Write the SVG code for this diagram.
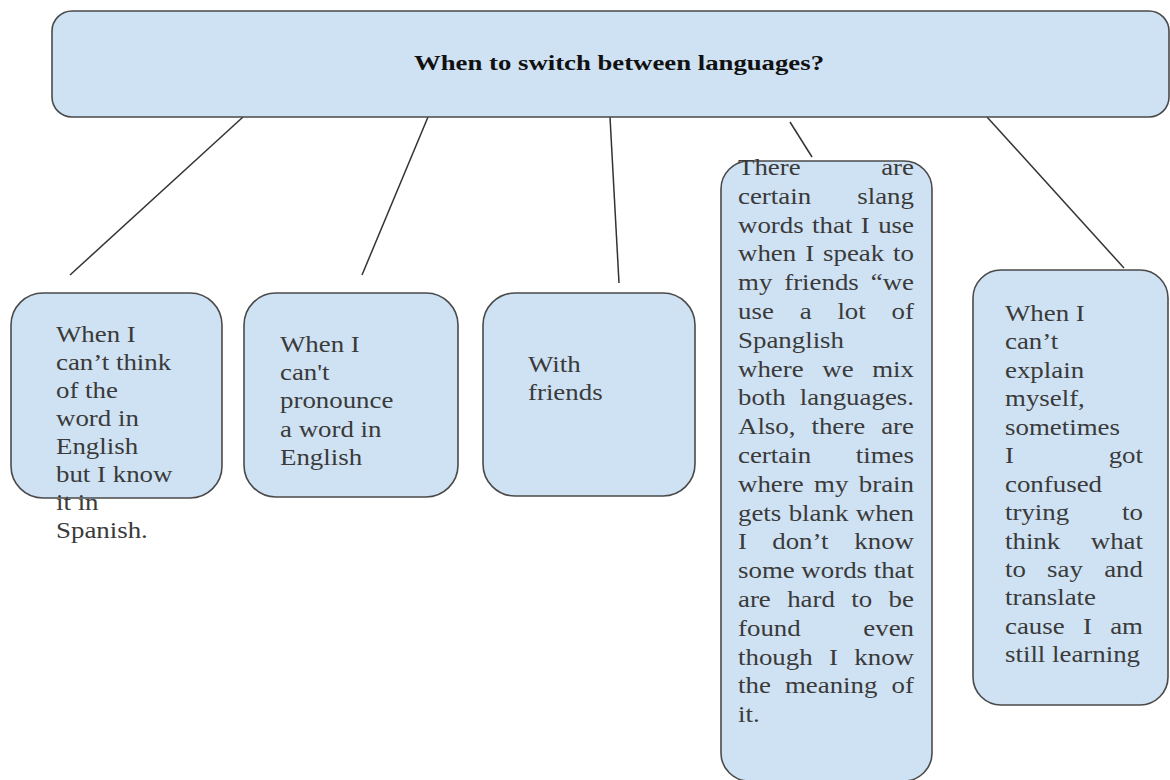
<svg xmlns="http://www.w3.org/2000/svg" width="1170" height="780" viewBox="0 0 1170 780">
<style>
.box{fill:#cfe2f3;stroke:#4a4a4a;stroke-width:1.6}
.t{font-family:"Liberation Serif","Times New Roman",serif;font-size:24px;fill:#3a3a3a}
.e{text-anchor:end}
.title{font-family:"Liberation Serif","Times New Roman",serif;font-size:20px;font-weight:bold;fill:#111;text-anchor:middle}
.conn line{stroke:#333;stroke-width:1.5}
</style>
<rect width="1170" height="780" fill="#fff"/>
<g id="connectors" class="conn">
<line x1="243" y1="117" x2="70" y2="275"/>
<line x1="428" y1="117" x2="362" y2="275"/>
<line x1="610" y1="117" x2="619" y2="283"/>
<line x1="790" y1="122" x2="812" y2="157"/>
<line x1="987" y1="117" x2="1124" y2="268"/>
</g>
<g id="root">
<rect class="box" x="52" y="11" width="1117" height="106" rx="20"/>
<text class="title" x="619" y="70" textLength="410" lengthAdjust="spacingAndGlyphs">When to switch between languages?</text>
</g>
<g id="node1">
<rect class="box" x="11" y="293" width="211" height="205" rx="32"/>
<g class="t" transform="translate(56,0) scale(1.12,1)">
<text x="0" y="342">When I</text>
<text x="0" y="370">can’t think</text>
<text x="0" y="398">of the</text>
<text x="0" y="426">word in</text>
<text x="0" y="454">English</text>
<text x="0" y="482">but I know</text>
<text x="0" y="510">it in</text>
<text x="0" y="538">Spanish.</text>
</g>
</g>
<g id="node2">
<rect class="box" x="244" y="293" width="214" height="204" rx="32"/>
<g class="t" transform="translate(280,0) scale(1.12,1)">
<text x="0" y="352">When I</text>
<text x="0" y="380">can't</text>
<text x="0" y="408">pronounce</text>
<text x="0" y="437">a word in</text>
<text x="0" y="465">English</text>
</g>
</g>
<g id="node3">
<rect class="box" x="483" y="293" width="212" height="203" rx="32"/>
<g class="t" transform="translate(528,0) scale(1.12,1)">
<text x="0" y="372">With</text>
<text x="0" y="400">friends</text>
</g>
</g>
<g id="node4">
<rect class="box" x="721" y="161" width="211" height="620" rx="28"/>
<g class="t" transform="translate(738,0) scale(1.12,1)">
<text x="0" y="175">There</text><text class="e" x="157.14" y="175">are</text>
<text x="0" y="203.8">certain</text><text class="e" x="157.14" y="203.8">slang</text>
<text x="0" y="232.6">words</text><text x="66.15" y="232.6">that</text><text x="109.64" y="232.6">I</text><text class="e" x="157.14" y="232.6">use</text>
<text x="0" y="261.4">when</text><text x="59.95" y="261.4">I</text><text x="75.9" y="261.4">speak</text><text class="e" x="157.14" y="261.4">to</text>
<text x="0" y="290.2">my</text><text x="41.26" y="290.2">friends</text><text class="e" x="157.14" y="290.2">“we</text>
<text x="0" y="319">use</text><text x="55.05" y="319">a</text><text x="88.76" y="319">lot</text><text class="e" x="157.14" y="319">of</text>
<text x="0" y="347.8">Spanglish</text>
<text x="0" y="376.6">where</text><text x="75.23" y="376.6">we</text><text class="e" x="157.14" y="376.6">mix</text>
<text x="0" y="405.4">both</text><text class="e" x="157.14" y="405.4">languages.</text>
<text x="0" y="434.2">Also,</text><text x="65.6" y="434.2">there</text><text class="e" x="157.14" y="434.2">are</text>
<text x="0" y="463">certain</text><text class="e" x="157.14" y="463">times</text>
<text x="0" y="491.8">where</text><text x="67.89" y="491.8">my</text><text class="e" x="157.14" y="491.8">brain</text>
<text x="0" y="520.6">gets</text><text x="45.24" y="520.6">blank</text><text class="e" x="157.14" y="520.6">when</text>
<text x="0" y="549.4">I</text><text x="30.57" y="549.4">don’t</text><text class="e" x="157.14" y="549.4">know</text>
<text x="0" y="578.2">some</text><text x="56.57" y="578.2">words</text><text class="e" x="157.14" y="578.2">that</text>
<text x="0" y="607">are</text><text x="43.92" y="607">hard</text><text x="101.19" y="607">to</text><text class="e" x="157.14" y="607">be</text>
<text x="0" y="635.8">found</text><text class="e" x="157.14" y="635.8">even</text>
<text x="0" y="664.6">though</text><text x="81.24" y="664.6">I</text><text class="e" x="157.14" y="664.6">know</text>
<text x="0" y="693.4">the</text><text x="41.91" y="693.4">meaning</text><text class="e" x="157.14" y="693.4">of</text>
<text x="0" y="722.2">it.</text>
</g>
</g>
<g id="node5">
<rect class="box" x="973" y="270" width="195" height="435" rx="28"/>
<g class="t" transform="translate(1005,0) scale(1.12,1)">
<text x="0" y="321">When I</text>
<text x="0" y="349.45">can’t</text>
<text x="0" y="377.9">explain</text>
<text x="0" y="406.35">myself,</text>
<text x="0" y="434.8">sometimes</text>
<text x="0" y="463.25">I</text><text class="e" x="123.2" y="463.25">got</text>
<text x="0" y="491.7">confused</text>
<text x="0" y="520.15">trying</text><text class="e" x="123.2" y="520.15">to</text>
<text x="0" y="548.6">think</text><text class="e" x="123.2" y="548.6">what</text>
<text x="0" y="577.05">to</text><text x="37.61" y="577.05">say</text><text class="e" x="123.2" y="577.05">and</text>
<text x="0" y="605.5">translate</text>
<text x="0" y="633.95">cause</text><text x="69.59" y="633.95">I</text><text class="e" x="123.2" y="633.95">am</text>
<text x="0" y="662.4">still learning</text>
</g>
</g>
</svg>
